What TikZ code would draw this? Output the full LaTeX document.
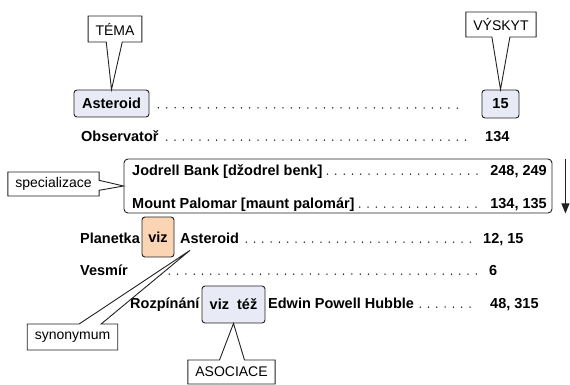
\documentclass[tikz,border=0pt]{standalone}
\usepackage{fontspec}
\setmainfont{Liberation Sans}
\usetikzlibrary{shapes.callouts,arrows.meta}
\definecolor{box_blue}{HTML}{E8EAF5}
\definecolor{box_orange}{HTML}{FBD4B4}
\definecolor{line_grey}{HTML}{222222}

\begin{document}
\begin{tikzpicture}[x=1pt,y=-1pt,
    every node/.style={font=\fontsize{14}{16}\selectfont},
    entry/.style={anchor=base west,inner sep=0,font=\fontsize{14.5}{16}\selectfont\bfseries},
    refbox/.style={draw=line_grey,line width=0.9pt,rounded corners=3pt,fill=box_blue,inner sep=0,font=\fontsize{14.5}{16}\selectfont\bfseries},
    note/.style={rectangle callout,draw=line_grey,line width=0.9pt,fill=white,inner xsep=7.5pt,inner ysep=0pt,minimum height=26pt,callout pointer width=16pt},
    leader/.style={line width=1.5pt,line cap=round,dash pattern=on 0pt off 8.3pt,transform canvas={yshift=0.9pt}}]
  \useasboundingbox (0,0) rectangle (570,384);

  % topic line
  \node[refbox,minimum width=75pt,minimum height=27pt] (ast) at (111.5,103.5) {Asteroid};
  \node[refbox,minimum width=37pt,minimum height=28pt] (p15) at (500.5,104) {15};
  \draw[leader] ([xshift=9pt]ast.base east) -- ([xshift=-17pt]p15.base west);

  \node[entry] (obs) at (81,141) {Observatoř};
  \node[entry] (p134) at (485,141) {134};
  \draw[leader] ([xshift=8pt]obs.base east) -- ([xshift=-12pt]p134.base west);

  % grouped lines
  \node[entry] (jod) at (132,175) {Jodrell Bank [džodrel benk]};
  \node[entry,anchor=base east] (jodp) at (547,175) {248, 249};
  \draw[leader] ([xshift=5pt]jod.base east) -- ([xshift=-10pt]jodp.base west);
  \node[entry] (mou) at (132,208) {Mount Palomar [maunt palomár]};
  \node[entry,anchor=base east] (moup) at (547,208) {134, 135};
  \draw[leader] ([xshift=5pt]mou.base east) -- ([xshift=-10pt]moup.base west);
  \node[draw=line_grey,line width=0.9pt,rounded corners=4pt,minimum width=428pt,minimum height=54pt] (grp) at (338,186) {};
  \draw[-{Triangle[length=10pt,width=8pt]},line width=0.9pt,line_grey] ([xshift=13pt]grp.north east) -- ([xshift=13pt]grp.south east);

  % see, see also
  \node[entry] (pla) at (80,243) {Planetka};
  \node[refbox,fill=box_orange,minimum width=32pt,minimum height=40pt] (viz) at (158,237) {viz};
  \node[entry] (ast2) at (180,243) {Asteroid};
  \node[entry] (p1215) at (483,243) {12, 15};
  \draw[leader] ([xshift=7pt]ast2.base east) -- ([xshift=-12pt]p1215.base west);

  \node[entry] (ves) at (80,275) {Vesmír};
  \node[entry] (p6) at (489,275) {6};
  \draw[leader] ([xshift=33pt]ves.base east) -- ([xshift=-12pt]p6.base west);

  \node[entry] (roz) at (130,308) {Rozpínání};
  \node[refbox,minimum width=63pt,minimum height=37pt] (vizt) at (233.5,304.5) {viz\ \ též};
  \node[entry] (hub) at (268,308) {Edwin Powell Hubble};
  \node[entry] (p48) at (490,308) {48, 315};
  \draw[leader] ([xshift=6pt]hub.base east) -- ([xshift=-14pt]p48.base west);

  % callouts
  \node[note,callout absolute pointer=(ast.north)] (tema) at (115,29) {TÉMA};
  \node[note,callout pointer width=18pt,minimum height=25pt,callout absolute pointer=(p15.north)] (vyskyt) at (501,24.5) {VÝSKYT};
  \node[note,callout pointer width=10pt,minimum height=24pt,callout absolute pointer=(grp.west)] (spec) at (53.5,184) {specializace};
  \node[note,callout pointer width=22pt,callout absolute pointer={([shift={(10,7)}]ast2.south west)}] (syn) at (72.5,337) {synonymum};
  \node[note,callout pointer width=25pt,minimum height=24pt,callout absolute pointer=(vizt.south)] (asoc) at (231.5,372) {ASOCIACE};
\end{tikzpicture}
\end{document}
